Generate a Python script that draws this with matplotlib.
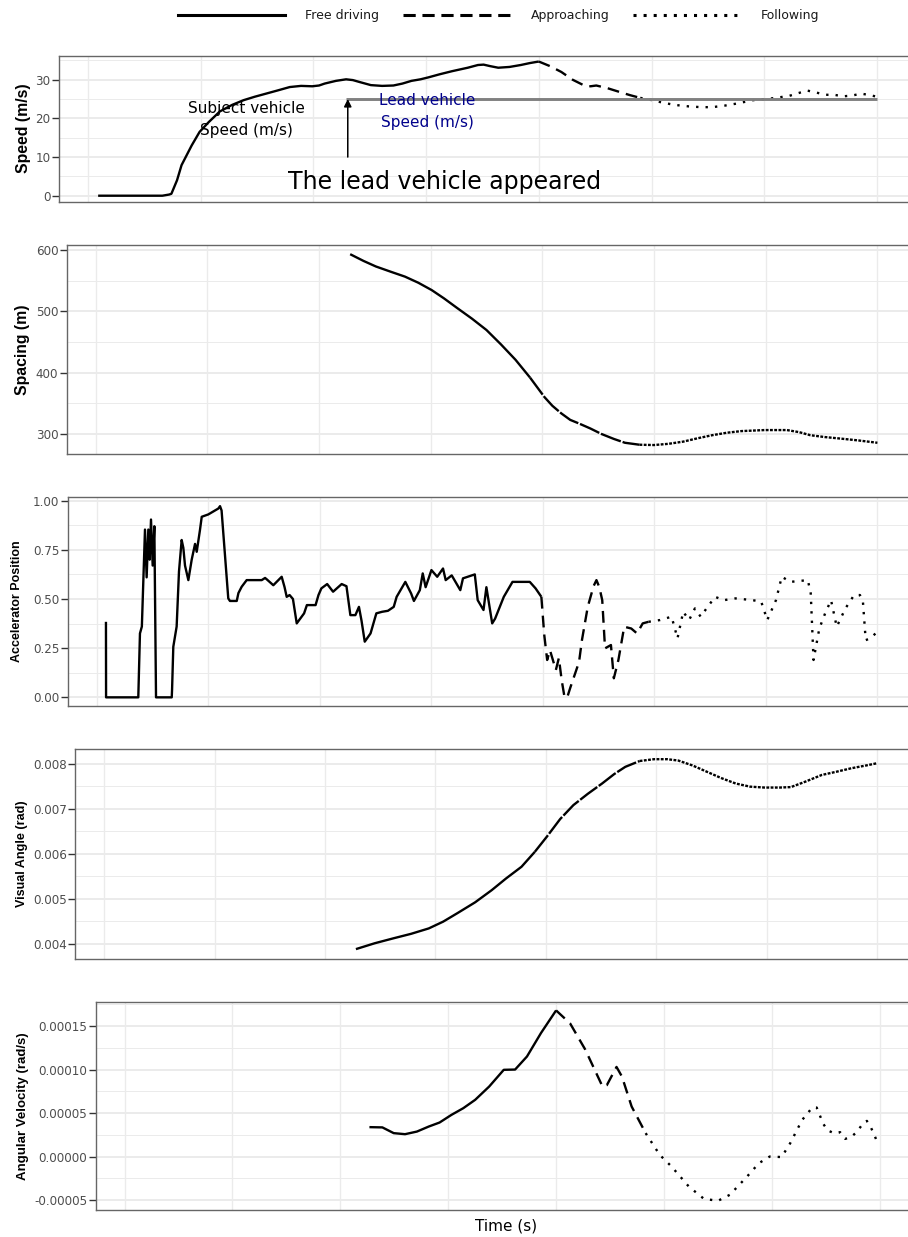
import numpy as np
import matplotlib.pyplot as plt
from matplotlib.lines import Line2D

plt.rcParams['font.family'] = 'DejaVu Sans'
plt.rcParams['axes.unicode_minus'] = False

W, H = 908, 1237

# phase boundaries and lead vehicle (time in s)
T_APPROACH = 400
T_FOLLOW = 495
T_LEAD = 229
T_END = 700
LEAD_SPEED = 25
grid_t = np.arange(0, 701, 100)

speed_t = [9, 66, 72, 74, 79, 83, 92, 99, 107, 117, 128, 138, 148, 158, 168, 179, 189, 199, 205,
           210, 220, 229, 235, 241, 251, 261, 271, 279, 287, 295, 302, 312, 323, 337, 346, 351,
           357, 364, 374, 384, 392, 400, 410, 420, 430, 441, 446, 451, 461, 472, 481, 490, 499,
           508, 520, 533, 544, 554, 565, 575, 590, 605, 622, 630, 638, 646, 654, 662, 670, 678,
           686, 694, 700]
speed_v = [0, 0, 0.3, 0.5, 4, 7.9, 13, 16.5, 19, 21.8, 23.5, 24.7, 25.6, 26.4, 27.2, 28.1, 28.4,
           28.3, 28.5, 29, 29.7, 30.1, 29.9, 29.4, 28.6, 28.4, 28.5, 29, 29.7, 30.1, 30.6, 31.4,
           32.2, 33.1, 33.8, 33.9, 33.5, 33.1, 33.3, 33.8, 34.3, 34.7, 33.5, 32, 30, 28.4, 28.3,
           28.5, 27.8, 26.8, 26, 25.3, 24.8, 24.2, 23.5, 23.1, 22.9, 22.9, 23.3, 23.8, 24.7, 25.1,
           25.8, 26.5, 27.2, 26.7, 26.1, 26.1, 25.7, 25.9, 26.4, 26, 25.6]

spacing_t = [228, 240, 251, 265, 277, 289, 301, 312, 324, 337, 350, 363, 376, 389, 402, 409, 417,
             425, 433, 443, 453, 464, 474, 487, 500, 513, 526, 539, 552, 565, 578, 599, 619, 630,
             640, 653, 666, 683, 700]
spacing_v = [593, 582, 573, 564, 556.5, 546.5, 534.5, 521, 505, 488, 469.5, 446, 421, 392, 360,
             346, 333.6, 323, 317, 309, 300, 292, 285.7, 282.5, 282, 284, 287.5, 293, 298, 302,
             304.7, 306.4, 306.4, 303, 298, 295, 292.7, 289.5, 285.7]

accel_t = [8.3, 8.4, 37.3, 38.8, 40.5, 43.3, 44.8, 46.3, 47.5, 48.7, 50.2, 51.7, 53.2, 67.3, 67.6,
           68.7, 71.7, 73.8, 76.2, 77.7, 79.2, 82.2, 85.2, 88.2, 89.7, 92.6, 94.2, 100.1, 104.6,
           109.1, 110.6, 112, 118, 119.5, 125.6, 127.1, 130, 134.5, 148, 151, 152.5, 158.4, 165.9,
           168.5, 170.4, 173, 176, 179.4, 186, 188.5, 196.3, 198.9, 201.5, 206.7, 212, 219.7, 224,
           227.5, 232, 235.2, 237.5, 240.4, 245.6, 250.8, 256, 261.2, 266.4, 269, 276.8, 282,
           284.5, 289.8, 292.4, 295, 300.2, 305.4, 310.6, 313, 318.4, 326.1, 328.5, 339.1, 341.7,
           346.9, 349.5, 354.7, 357.3, 365.1, 372.9, 388.4, 393.6, 398.8, 401.4, 404, 406.5,
           411.8, 414.5, 417, 419.6, 422, 424.8, 432.6, 435.2, 440.4, 445.6, 448.2, 450.8, 453.4,
           455.9, 461.2, 463.8, 467.9, 473.1, 479.4, 484.6, 489.7, 494.9, 505.2, 515.6, 520.9,
           526, 531.3, 536.5, 541.7, 546.9, 554.6, 562.4, 572.8, 588.4, 596, 601.4, 609.2, 614.4,
           622.2, 637.8, 640.4, 642.9, 648.1, 653.3, 658.6, 663.7, 671.5, 679.3, 684.5, 687.1,
           689.7, 694, 698.5]
accel_v = [0.384, 0, 0, 0.325, 0.36, 0.853, 0.61, 0.853, 0.70, 0.904, 0.67, 0.87, 0, 0, 0.04,
           0.257, 0.36, 0.64, 0.80, 0.76, 0.67, 0.596, 0.70, 0.78, 0.74, 0.85, 0.918, 0.93, 0.945,
           0.96, 0.972, 0.95, 0.503, 0.49, 0.49, 0.53, 0.562, 0.596, 0.596, 0.607, 0.60, 0.57,
           0.613, 0.56, 0.511, 0.52, 0.50, 0.376, 0.427, 0.469, 0.469, 0.52, 0.554, 0.576, 0.537,
           0.576, 0.565, 0.418, 0.418, 0.46, 0.39, 0.283, 0.325, 0.427, 0.435, 0.44, 0.46, 0.511,
           0.587, 0.528, 0.49, 0.545, 0.63, 0.56, 0.647, 0.613, 0.655, 0.596, 0.62, 0.545, 0.605,
           0.625, 0.494, 0.444, 0.56, 0.376, 0.40, 0.511, 0.587, 0.587, 0.554, 0.511, 0.317, 0.19,
           0.24, 0.139, 0.2, 0.088, 0, 0, 0.05, 0.18, 0.291, 0.46, 0.565, 0.596, 0.56, 0.494,
           0.249, 0.266, 0.097, 0.19, 0.359, 0.35, 0.325, 0.376, 0.384, 0.393, 0.41, 0.30, 0.435,
           0.393, 0.452, 0.41, 0.452, 0.511, 0.494, 0.503, 0.494, 0.486, 0.393, 0.494, 0.613,
           0.587, 0.596, 0.528, 0.19, 0.35, 0.427, 0.494, 0.359, 0.452, 0.52, 0.52, 0.494, 0.291,
           0.30, 0.325]

angle_t = [228, 245, 262, 278, 294, 307, 320, 336, 351, 364, 378, 390, 401, 413, 425, 438, 451,
           462, 472, 485, 498, 510, 520, 533, 546, 559, 572, 585, 598, 612, 622, 635, 650, 663,
           677, 690, 700]
angle_v = [0.00388, 0.00401, 0.00412, 0.00422, 0.00434, 0.00449, 0.00468, 0.00492, 0.00519,
           0.00545, 0.00571, 0.00604, 0.00638, 0.00677, 0.00708, 0.00733, 0.00756, 0.00777,
           0.00793, 0.00806, 0.0081, 0.0081, 0.00807, 0.00796, 0.00782, 0.00768, 0.00756,
           0.00749, 0.00747, 0.00747, 0.00748, 0.0076, 0.00775, 0.00782, 0.0079, 0.00796, 0.00801]

angvel_t = [227, 239, 249.5, 260, 271, 282, 292, 303, 314, 325, 338, 351.5, 362, 373, 386, 400,
            413, 427, 443, 447, 456, 461, 470, 483, 496, 507, 523, 537, 550, 561, 577, 588, 598,
            609, 617, 628, 637.4, 641.5, 644.6, 647.6, 651.7, 657.6, 663.2, 668, 674, 679, 683,
            688, 691.6, 695, 698]
angvel_v = [3.38e-5, 3.35e-5, 2.69e-5, 2.57e-5, 2.87e-5, 3.45e-5, 3.91e-5, 4.79e-5, 5.56e-5,
            6.52e-5, 8.05e-5, 9.97e-5, 1.0e-4, 1.15e-4, 1.42e-4, 1.68e-4, 1.53e-4, 1.23e-4,
            8.05e-5, 8.2e-5, 1.03e-4, 9.2e-5, 5.75e-5, 2.69e-5, 2e-6, -1.15e-5, -3.45e-5,
            -4.86e-5, -5.09e-5, -4.4e-5, -2.3e-5, -7.6e-6, 0, -6e-7, 1.54e-5, 4.2e-5, 5.63e-5,
            5.63e-5, 4.68e-5, 3.76e-5, 3.0e-5, 2.69e-5, 2.8e-5, 2.03e-5, 2.3e-5, 2.87e-5,
            3.56e-5, 4.1e-5, 3.38e-5, 2.46e-5, 1.54e-5]

phase_labels = ['Free driving', 'Approaching', 'Following']
phase_styles = ['-', (0, (5, 3)), (0, (1, 3))]
# smooth series are densely sampled, so their dash patterns barely open up
dense_styles = ['-', (0, (9, 0.8)), (0, (1.2, 0.6))]

fig = plt.figure(figsize=(W / 100, H / 100), dpi=100)


def add_panel(left, top, bottom, grid0, step, ylim, yticks, ylabels, yminor):
    # left/top/bottom in pixels; grid0 = pixel of t=0, step = pixels per 100 s
    right = 960
    ax = fig.add_axes([left / W, 1 - bottom / H, (right - left) / W, (bottom - top) / H])
    ax.set_xlim((left - grid0) / step * 100, (right - grid0) / step * 100)
    ax.set_ylim(*ylim)
    ax.set_xticks(grid_t)
    ax.tick_params(axis='x', length=0, labelbottom=False)
    ax.set_yticks(yticks)
    ax.set_yticklabels(ylabels)
    ax.set_yticks(yminor, minor=True)
    ax.tick_params(axis='y', which='major', length=4.7, width=1.0, pad=1.2,
                   color='#333333', labelcolor='#4D4D4D', labelsize=8.6)
    ax.tick_params(axis='y', which='minor', length=0)
    ax.grid(axis='x', which='major', color='#EBEBEB', lw=1.0)
    ax.grid(axis='y', which='major', color='#EBEBEB', lw=1.4)
    ax.grid(axis='y', which='minor', color='#EBEBEB', lw=0.7)
    ax.set_axisbelow(True)
    for s in ax.spines.values():
        s.set_color('#666666')
        s.set_linewidth(1.0)
    return ax


def draw_phases(ax, t, v, styles=phase_styles):
    t = np.asarray(t, float)
    v = np.asarray(v, float)
    edges = [-np.inf, T_APPROACH, T_FOLLOW, np.inf]
    for k, ls in enumerate(styles):
        idx = np.flatnonzero((t > edges[k]) & (t <= edges[k + 1]))
        if idx.size == 0:
            continue
        lo = max(idx[0] - 1, 0)
        ax.plot(t[lo:idx[-1] + 1], v[lo:idx[-1] + 1], color='black', lw=1.7, linestyle=ls,
                solid_capstyle='butt', dash_capstyle='butt', solid_joinstyle='round')


def ylabel(text, x, top, bottom, size):
    fig.text(x / W, 1 - (top + bottom) / 2 / H, text, rotation=90, ha='center', va='center',
             family='Liberation Sans', weight='bold', size=size, color='black')


# speed
ax1 = add_panel(58.5, 55.5, 201.7, 88, 112.7, (-1.55, 36.26), [0, 10, 20, 30],
                ['0', '10', '20', '30'], [5, 15, 25, 35])
draw_phases(ax1, speed_t, speed_v)
ax1.plot([T_LEAD, T_END], [LEAD_SPEED, LEAD_SPEED], color='#808080', lw=2.1, solid_capstyle='butt')
ax1.annotate('', xy=(T_LEAD + 1.5, LEAD_SPEED), xytext=(T_LEAD + 1.5, 10),
             arrowprops=dict(arrowstyle='-|>', color='black', lw=1.1, mutation_scale=11,
                             shrinkA=0, shrinkB=0))
ax1.text(141, 19.8, 'Subject vehicle\nSpeed (m/s)', ha='center', va='center', size=11,
         linespacing=1.6, color='black')
ax1.text(301, 21.7, 'Lead vehicle\nSpeed (m/s)', ha='center', va='center', size=11,
         linespacing=1.6, color='darkblue')
ax1.text(316, 3.6, 'The lead vehicle appeared', ha='center', va='center', size=17,
         color='black')
ylabel('Speed (m/s)', 24, 55.5, 201.7, 11.4)

# spacing
ax2 = add_panel(66.6, 245, 454, 95.5, 111.7, (267.4, 608), [300, 400, 500, 600],
                ['300', '400', '500', '600'], [350, 450, 550])
draw_phases(ax2, spacing_t, spacing_v, dense_styles)
ylabel('Spacing (m)', 23, 245, 454, 11.3)

# accelerator
ax3 = add_panel(67.7, 497.3, 706, 96.7, 111.5, (-0.044, 1.017), [0, 0.25, 0.5, 0.75, 1.0],
                ['0.00', '0.25', '0.50', '0.75', '1.00'], [0.125, 0.375, 0.625, 0.875])
draw_phases(ax3, accel_t, accel_v)
ylabel('Accelerator Position', 17, 497.3, 706, 9.0)

# visual angle
ax4 = add_panel(75.3, 749.3, 958.7, 104.2, 110.4, (0.003667, 0.00832),
                [0.004, 0.005, 0.006, 0.007, 0.008],
                ['0.004', '0.005', '0.006', '0.007', '0.008'], [0.0045, 0.0055, 0.0065, 0.0075])
draw_phases(ax4, angle_t, angle_v, dense_styles)
ylabel('Visual Angle (rad)', 22.5, 749.3, 958.7, 9.1)

# angular velocity
ax5 = add_panel(95.5, 1001.7, 1210.3, 124.5, 107.9, (-0.0000618, 0.000178),
                [-0.00005, 0, 0.00005, 0.0001, 0.00015],
                ['-0.00005', '0.00000', '0.00005', '0.00010', '0.00015'],
                [-0.000025, 0.000025, 0.000075, 0.000125, 0.000175])
draw_phases(ax5, angvel_t, angvel_v)
ylabel('Angular Velocity (rad/s)', 23, 1001.7, 1210.3, 9.5)

fig.text(506 / W, 1 - 1226 / H, 'Time (s)', ha='center', va='center', size=11, color='black')

handles = [Line2D([], [], color='black', lw=2.2, linestyle='-'),
           Line2D([], [], color='black', lw=2.2, linestyle=(0, (4, 2.2)), dash_capstyle='butt'),
           Line2D([], [], color='black', lw=2.2, linestyle=(0, (1, 2.3)), dash_capstyle='butt')]
fig.legend(handles, phase_labels, loc='center', bbox_to_anchor=(498.5 / W, 1 - 16 / H), ncol=3,
           frameon=False, handlelength=8.6, handletextpad=1.6, columnspacing=1.9, fontsize=9,
           labelcolor='#1a1a1a')

fig.savefig('out.png', dpi=100)
